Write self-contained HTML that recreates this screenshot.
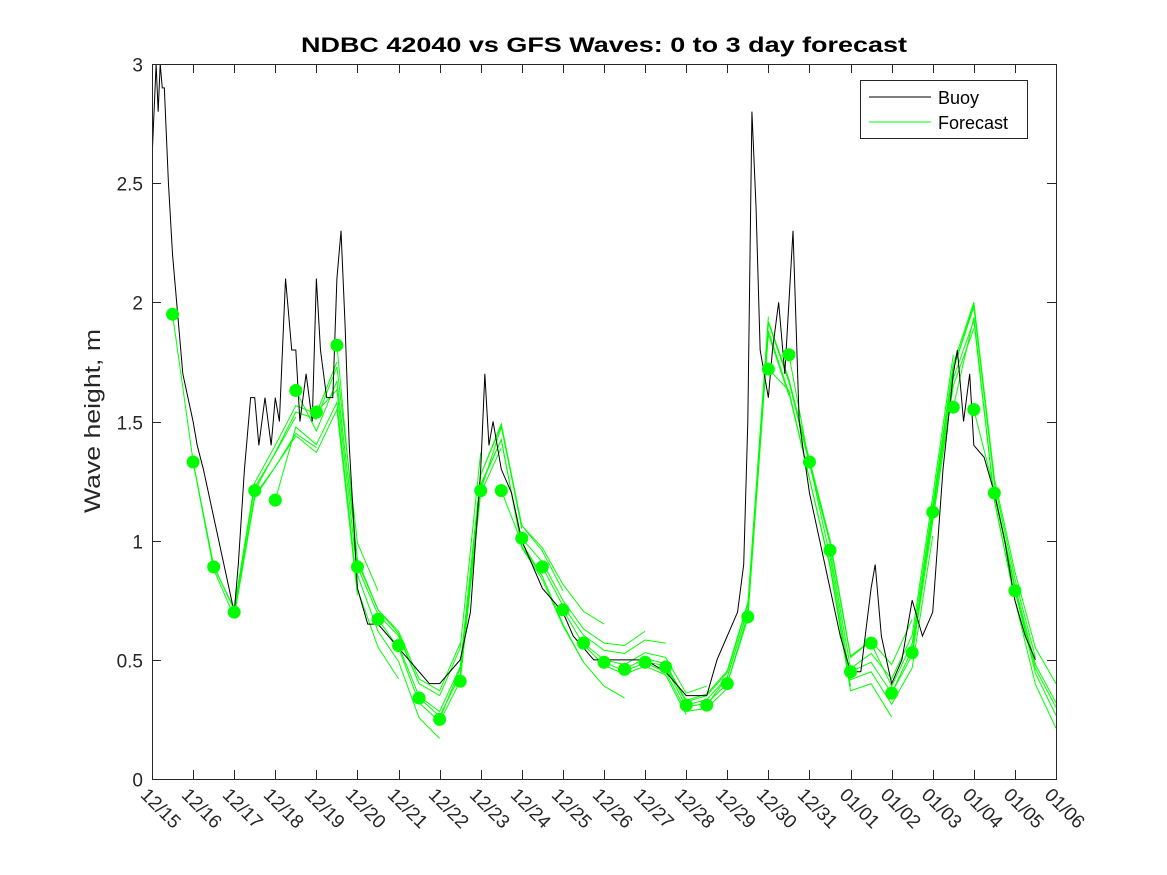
<!DOCTYPE html>
<html><head><meta charset="utf-8"><style>
html,body{margin:0;padding:0;background:#fff;}
svg{display:block;font-family:"Liberation Sans","DejaVu Sans",sans-serif;}
</style></head><body>
<svg id="chart" width="1167" height="875" viewBox="0 0 1167 875">
<rect x="0" y="0" width="1167" height="875" fill="#fff"/>
<text x="604" y="52" text-anchor="middle" font-size="21" font-weight="bold" fill="#000" textLength="606" lengthAdjust="spacingAndGlyphs">NDBC 42040 vs GFS Waves: 0 to 3 day forecast</text>
<text transform="translate(100,421) rotate(-90)" text-anchor="middle" font-size="22" fill="#262626" textLength="184" lengthAdjust="spacingAndGlyphs">Wave height, m</text>
<g id="plot"></g>
<g id="axes"></g>
<g>
<rect x="860.5" y="80.5" width="167" height="58" fill="#fff" stroke="#262626" stroke-width="1"/>
<line x1="869" y1="97" x2="931" y2="97" stroke="#000" stroke-width="1"/>
<text x="938" y="104" font-size="18" fill="#000">Buoy</text>
<line x1="869" y1="122" x2="931" y2="122" stroke="#00ff00" stroke-width="1"/>
<text x="938" y="129" font-size="18" fill="#000">Forecast</text>
</g>
</svg>
<script>
const dateLabels=["12/15","12/16","12/17","12/18","12/19","12/20","12/21","12/22","12/23","12/24","12/25","12/26","12/27","12/28","12/29","12/30","12/31","01/01","01/02","01/03","01/04","01/05","01/06"];
const yTicks=[0,0.5,1,1.5,2,2.5,3];
const yTickLabels=["0","0.5","1","1.5","2","2.5","3"];
const buoyDays=[0,0.1,0.15,0.2,0.25,0.3,0.4,0.5,0.6,0.75,1,1.1,1.25,1.5,1.75,2,2.1,2.25,2.4,2.5,2.6,2.75,2.9,3.0,3.1,3.25,3.4,3.5,3.6,3.75,3.9,4.0,4.1,4.25,4.4,4.5,4.6,4.7,4.8,5,5.25,5.5,5.75,6,6.25,6.5,6.75,7,7.25,7.5,7.75,8,8.1,8.2,8.3,8.5,8.75,9,9.25,9.5,9.75,10,10.25,10.5,10.75,11,11.5,12,12.5,13,13.5,13.75,14,14.25,14.4,14.5,14.6,14.7,14.8,15,15.1,15.25,15.4,15.5,15.6,15.75,16,16.25,16.5,16.75,17,17.25,17.5,17.6,17.75,18,18.25,18.5,18.75,19,19.25,19.5,19.6,19.75,19.9,20,20.25,20.5,20.75,21,21.25,21.5];
const buoyVals=[2.6,3.0,2.8,3.0,2.9,2.9,2.5,2.2,2.0,1.7,1.5,1.4,1.3,1.1,0.9,0.7,0.9,1.3,1.6,1.6,1.4,1.6,1.4,1.6,1.5,2.1,1.8,1.8,1.5,1.7,1.5,2.1,1.8,1.6,1.6,2.1,2.3,1.9,1.4,0.8,0.65,0.65,0.6,0.55,0.5,0.45,0.4,0.4,0.45,0.5,0.7,1.3,1.7,1.4,1.5,1.3,1.2,1.0,0.9,0.8,0.75,0.7,0.6,0.55,0.5,0.5,0.5,0.5,0.45,0.35,0.35,0.5,0.6,0.7,0.9,1.5,2.8,2.4,1.8,1.6,1.8,2.0,1.7,2.0,2.3,1.5,1.2,1.0,0.8,0.6,0.45,0.45,0.8,0.9,0.6,0.4,0.5,0.75,0.6,0.7,1.3,1.7,1.8,1.5,1.7,1.4,1.35,1.2,1.0,0.75,0.6,0.5];
const fcDays=[0.5,1,1.5,2,2.5,3,3.5,4,4.5,5,5.5,6,6.5,7,7.5,8,8.5,9,9.5,10,10.5,11,11.5,12,12.5,13,13.5,14,14.5,15,15.5,16,16.5,17,17.5,18,18.5,19,19.5,20,20.5,21,21.5,22];
const fcBase=[1.95,1.33,0.89,0.70,1.21,1.35,1.50,1.45,1.65,0.89,0.67,0.56,0.34,0.27,0.45,1.25,1.45,1.01,0.89,0.71,0.57,0.49,0.46,0.50,0.47,0.31,0.33,0.42,0.70,1.90,1.65,1.30,0.95,0.45,0.50,0.38,0.55,1.12,1.70,1.95,1.20,0.79,0.45,0.28];
const dotVals=[1.95,1.33,0.89,0.70,1.21,1.17,1.63,1.54,1.82,0.89,0.67,0.56,0.34,0.25,0.41,1.21,1.21,1.01,0.89,0.71,0.57,0.49,0.46,0.49,0.47,0.31,0.31,0.40,0.68,1.72,1.78,1.33,0.96,0.45,0.57,0.36,0.53,1.12,1.56,1.55,1.20,0.79];
const runBias=[0.01,-0.03,0.05,-0.06,0.06,-0.07,0.03,-0.05,0.06,0.06,-0.03,0.02,-0.02,0.04,-0.04,0.08,-0.06,0.06,0.05,-0.02,0.03,-0.02,0.02,0.02,-0.02,0.01,0.02,-0.03,0.04,-0.06,0.06,-0.05,0.04,-0.03,0.03,-0.02,0.03,0.06,-0.04,0.03,0.02,-0.02];

const X0=152,X1=1056,Y0=779,Y1=64;
const xs=d=>X0+(X1-X0)*d/22;
const ys=v=>Y0-(Y0-Y1)*v/3;
const NS="http://www.w3.org/2000/svg";
const plot=document.getElementById('plot'), axes=document.getElementById('axes');
function mk(t,a,p){const e=document.createElementNS(NS,t);for(const k in a)e.setAttribute(k,a[k]);p.appendChild(e);return e;}

const fr=mk('rect',{x:X0+0.5,y:Y1+0.5,width:X1-X0,height:Y0-Y1,fill:'none',stroke:'#262626','stroke-width':1},axes);


yTicks.forEach((v,i)=>{
  const y=Math.round(ys(v))+0.5;
  mk('line',{x1:X0,y1:y,x2:X0+9,y2:y,stroke:'#262626'},axes);
  mk('line',{x1:X1-9,y1:y,x2:X1,y2:y,stroke:'#262626'},axes);
  const t=mk('text',{x:X0-9,y:y+7,'text-anchor':'end','font-size':19,fill:'#262626'},axes);
  t.textContent=yTickLabels[i];
  
  
});
dateLabels.forEach((s,i)=>{
  const x=Math.round(xs(i))+0.5;
  mk('line',{x1:x,y1:Y0,x2:x,y2:Y0-9,stroke:'#262626'},axes);
  mk('line',{x1:x,y1:Y1,x2:x,y2:Y1+9,stroke:'#262626'},axes);
  const t=mk('text',{x:0,y:0,'font-size':19,fill:'#262626',transform:`translate(${x-13},${Y0+17}) rotate(45)`},axes);
  t.textContent=s;
  
  
});

const cp=mk('clipPath',{id:'pc'},plot);mk('rect',{x:X0,y:Y1,width:X1-X0,height:Y0-Y1},cp);
const g=mk('g',{'clip-path':'url(#pc)'},plot);
dotVals.forEach((v,i)=>{
  let pts=[[xs(fcDays[i]),ys(v)]];
  for(let k=1;k<=6&&i+k<fcBase.length;k++){
    pts.push([xs(fcDays[i+k]),ys(fcBase[i+k]+runBias[i]*(k/3))]);
  }
  const p=mk('polyline',{points:pts.map(q=>q.join(',')).join(' '),fill:'none',stroke:'#00ff00','stroke-width':1},g);
  
  
});
const bp=mk('polyline',{points:buoyDays.map((d,i)=>xs(d)+','+ys(buoyVals[i])).join(' '),fill:'none',stroke:'#000','stroke-width':1},g);


dotVals.forEach((v,i)=>{
  const c=mk('circle',{cx:xs(fcDays[i]),cy:ys(v),r:6.5,fill:'#00ff00'},g);
  
  
});
</script>
</body></html>
